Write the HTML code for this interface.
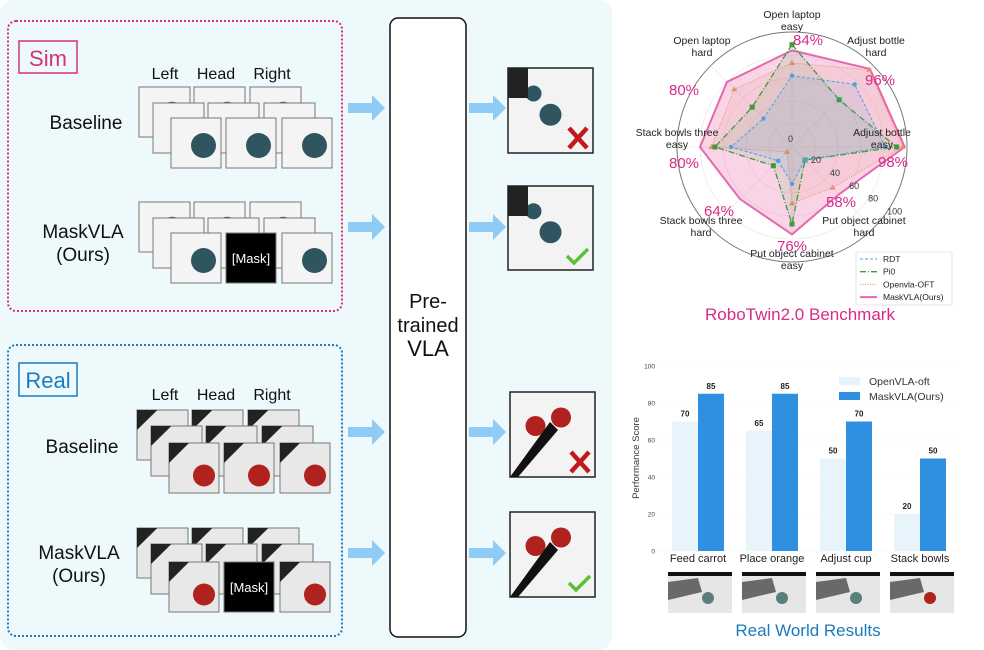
<!DOCTYPE html>
<html><head><meta charset="utf-8"><style>
body{margin:0;background:#fff;}
svg{display:block;font-family:"Liberation Sans",sans-serif;}
</style></head><body>
<svg id="fig" width="984" height="650" viewBox="0 0 984 650" xmlns="http://www.w3.org/2000/svg">
<rect x="0" y="0" width="612" height="650" rx="14" fill="#edf9fa"/>
<rect x="8" y="21" width="334" height="290" rx="8" fill="none" stroke="#d6307f" stroke-width="2" stroke-dasharray="2 2"/>
<rect x="19" y="41" width="58" height="32" fill="none" stroke="#d6307f" stroke-width="1.5"/>
<text x="48" y="66" font-size="22" fill="#d6307f" text-anchor="middle">Sim</text>
<rect x="8" y="345" width="334" height="291" rx="8" fill="none" stroke="#1a7cc4" stroke-width="2" stroke-dasharray="2 2"/>
<rect x="19" y="363" width="58" height="33" fill="none" stroke="#1a7cc4" stroke-width="1.5"/>
<text x="48" y="388" font-size="22" fill="#1a7cc4" text-anchor="middle">Real</text>
<g font-size="16" fill="#111" text-anchor="middle">
<text x="165" y="79">Left</text>
<text x="216" y="79">Head</text>
<text x="272" y="79">Right</text>
<text x="165" y="400">Left</text>
<text x="216" y="400">Head</text>
<text x="272" y="400">Right</text>
</g>
<g font-size="19" fill="#111" text-anchor="middle">
<text x="86" y="129">Baseline</text>
<text x="83" y="238">MaskVLA</text>
<text x="83" y="261">(Ours)</text>
<text x="82" y="453">Baseline</text>
<text x="79" y="559">MaskVLA</text>
<text x="79" y="582">(Ours)</text>
</g>
<g id="stacks"></g>
<rect x="390" y="18" width="76" height="619" rx="8" fill="#fff" stroke="#111" stroke-width="1.5"/>
<g font-size="20" fill="#111" text-anchor="middle">
<text x="428" y="308">Pre-</text>
<text x="428" y="332">trained</text>
<text x="428" y="356" font-size="22">VLA</text>
</g>
<g id="arrows"></g>
<g id="outputs"></g>
<g id="radar"></g>
<g id="bars"></g>
</svg>
<script>
const NS='http://www.w3.org/2000/svg';
function mk(tag,attrs,parent){const e=document.createElementNS(NS,tag);for(const k in attrs)e.setAttribute(k,attrs[k]);parent.appendChild(e);return e;}
const stacks=document.getElementById('stacks');
function thumb(x,y,w,h,kind,masked){
  const g=mk('g',{},stacks);
  
  
  if(masked){mk('rect',{x,y,width:w,height:h,fill:'#000',stroke:'#777','stroke-width':1},g);
    const t=mk('text',{x:x+w/2,y:y+h/2+5,'font-size':13,fill:'#fff','text-anchor':'middle'},g);t.textContent='[Mask]';return;}
  mk('rect',{x,y,width:w,height:h,fill:kind==='sim'?'#f4f4f4':'#e8e8e8',stroke:'#777','stroke-width':1},g);
  if(kind==='sim'){mk('circle',{cx:x+w*0.65,cy:y+h*0.55,r:w*0.25,fill:'#2f5560'},g);}
  else{mk('path',{d:`M${x} ${y+h*0.4}L${x+w*0.4} ${y}L${x} ${y}Z`,fill:'#222'},g);
    mk('circle',{cx:x+w*0.7,cy:y+h*0.65,r:w*0.22,fill:'#b0221e'},g);}
}
function stackRow(backY,frontY,xs,kind,masked){
  const back=[xs[0]-32,xs[1]-32,xs[2]-32];
  for(let i=0;i<3;i++)thumb(back[i],backY,51,50,kind,false);
  for(let i=0;i<3;i++)thumb(back[i]+14,backY+16,51,50,kind,false);
  for(let i=0;i<3;i++)thumb(xs[i],frontY,50,50,kind,masked&&i===1);
}
stackRow(87,118,[171,226,282],'sim',false);
stackRow(202,233,[171,226,282],'sim',true);
stackRow(410,443,[169,224,280],'real',false);
stackRow(528,562,[169,224,280],'real',true);
const arrows=document.getElementById('arrows');
[[348,108],[348,227],[348,432],[348,553],[469,108],[469,227],[469,432],[469,553]].forEach(([x,y])=>{
  const p=mk('path',{d:`M${x} ${y-5}H${x+24}V${y-13}L${x+37} ${y}L${x+24} ${y+13}V${y+5}H${x}Z`,fill:'#8ecbf5'},arrows);
  
  
});
const outputs=document.getElementById('outputs');
[[508,68,85,85,'sim',false],[508,186,85,84,'sim',true],[510,392,85,85,'real',false],[510,512,85,85,'real',true]].forEach(([x,y,w,h,k,ok])=>{
  const g=mk('g',{},outputs);
  
  
  mk('rect',{x,y,width:w,height:h,fill:'#f3f3f3',stroke:'#222','stroke-width':1.5},g);
  if(k==='sim'){mk('circle',{cx:x+w*0.5,cy:y+h*0.55,r:11,fill:'#2f5560'},g);mk('circle',{cx:x+w*0.3,cy:y+h*0.3,r:8,fill:'#2f5560'},g);mk('path',{d:`M${x} ${y}h20v30h-20z`,fill:'#222'},g);}
  else{mk('circle',{cx:x+w*0.6,cy:y+h*0.3,r:10,fill:'#b0221e'},g);mk('circle',{cx:x+w*0.3,cy:y+h*0.4,r:10,fill:'#b0221e'},g);mk('path',{d:`M${x} ${y+h}L${x+40} ${y+30}L${x+48} ${y+38}L${x+8} ${y+h}Z`,fill:'#111'},g);}
  if(ok)mk('path',{d:`M${x+w-26} ${y+h-14}l7 7l14 -14`,stroke:'#5bc236','stroke-width':3.5,fill:'none'},g);
  else{mk('path',{d:`M${x+w-24} ${y+h-25}l18 20M${x+w-6} ${y+h-25}l-18 20`,stroke:'#c0181b','stroke-width':4.5,fill:'none'},g);}
});
</script>
<script>
const radarAxes=["Open laptop\neasy","Adjust bottle\nhard","Adjust bottle\neasy","Put object cabinet\nhard","Put object cabinet\neasy","Stack bowls three\nhard","Stack bowls three\neasy","Open laptop\nhard"];
const rdtValues=[62,77,81,16,32,17,53,35];
const pi0Values=[89,58,91,16,67,23,67,49];
const oftValues=[73,95,96,50,49,6,70,71];
const maskValues=[84,96,98,58,76,64,80,80];
const radarTicks=[0,20,40,60,80,100];
const maskLabels=["84%","96%","98%","58%","76%","64%","80%","80%"];
(function(){
  const g=document.getElementById('radar');
  const cx=792,cy=147,R=115,N=radarAxes.length;
  const ang=i=>-Math.PI/2+i*2*Math.PI/N;
  const rs=v=>v/100*R;
  const pt=(i,v)=>[cx+rs(v)*Math.cos(ang(i)),cy+rs(v)*Math.sin(ang(i))];
  radarTicks.forEach(t=>{if(t>0){const c=mk('circle',{cx,cy,r:rs(t),fill:'none',stroke:t===100?'#777':'#e4e4e4','stroke-width':t===100?1:0.6},g);}});
  for(let i=0;i<N;i++){const [x,y]=pt(i,100);const l=mk('line',{x1:cx,y1:cy,x2:x,y2:y,stroke:'#e4e4e4','stroke-width':0.6},g);}
  const series=[
    {v:rdtValues,c:'#4aa3df',dash:'3 2',fill:'rgba(74,163,223,0.12)',m:'circle',w:1,name:'rdt'},
    {v:pi0Values,c:'#3d9a3d',dash:'6 2 1 2',fill:'rgba(61,154,61,0.10)',m:'square',w:1.3,name:'pi0'},
    {v:oftValues,c:'#e88f6a',dash:'1 1.5',fill:'rgba(232,143,106,0.12)',m:'tri',w:1,name:'openvla-oft'},
    {v:maskValues,c:'#e667ac',dash:'',fill:'rgba(232,102,170,0.28)',m:'none',w:2,name:'maskvla'}];
  series.slice().reverse().forEach(s=>{
    const pts=s.v.map((v,i)=>pt(i,v).join(',')).join(' ');
    const p=mk('polygon',{points:pts,fill:s.fill,stroke:s.c,'stroke-width':s.w,'stroke-dasharray':s.dash},g);
    
    
    s.v.forEach((v,i)=>{const [x,y]=pt(i,v);let m;
      if(s.m==='circle')m=mk('circle',{cx:x,cy:y,r:2.2,fill:s.c},g);
      else if(s.m==='square')m=mk('rect',{x:x-2.5,y:y-2.5,width:5,height:5,fill:s.c},g);
      else if(s.m==='tri')m=mk('path',{d:`M${x} ${y-3}L${x+3} ${y+2}L${x-3} ${y+2}Z`,fill:s.c},g);
      if(m){}});
  });
  radarTicks.forEach(t=>{const a=Math.PI*0.19;const x=cx+rs(t)*Math.cos(a),y=cy+rs(t)*Math.sin(a);
    const tx=mk('text',{x:t===0?cx-4:x,y:t===0?cy-5:y+3,'font-size':9,fill:'#333'},g);tx.textContent=t;
    });
  const lblPos=[[792,18],[876,44],[882,136],[864,224],[792,257],[701,224],[677,136],[702,44]];
  radarAxes.forEach((a,i)=>{const [x,y]=lblPos[i];const lines=a.split('\n');
    lines.forEach((ln,k)=>{const t=mk('text',{x,y:y+k*12,'font-size':10.5,fill:'#222','text-anchor':'middle'},g);t.textContent=ln;
      });});
  const pctPos=[[808,45],[880,85],[893,167],[841,207],[792,251],[719,216],[684,168],[684,95]];
  maskLabels.forEach((s,i)=>{const [x,y]=pctPos[i];const t=mk('text',{x,y,'font-size':15,fill:'#d92a87','text-anchor':'middle'},g);t.textContent=s;
    });
  const lg=mk('g',{},g);
  mk('rect',{x:856,y:252,width:96,height:53,rx:2,fill:'#fff',stroke:'#ddd','stroke-width':0.8},lg);
  const names=['RDT','Pi0','Openvla-OFT','MaskVLA(Ours)'];
  series.forEach((s,i)=>{const y=259+i*12.7;mk('line',{x1:860,y1:y,x2:877,y2:y,stroke:s.c,'stroke-width':s.w,'stroke-dasharray':s.dash},lg);
    const t=mk('text',{x:883,y:y+3,'font-size':8.5,fill:'#222'},lg);t.textContent=names[i];
    });
  const tt=mk('text',{x:800,y:320,'font-size':17,fill:'#d92a87','text-anchor':'middle'},g);tt.textContent='RoboTwin2.0 Benchmark';
  
})();
</script>
<script>
const barCategories=["Feed carrot","Place orange","Adjust cup","Stack bowls"];
const openvlaScores=[70,65,50,20];
const maskvlaScores=[85,85,70,50];
const yTicks=[0,20,40,60,80,100];
(function(){
  const g=document.getElementById('bars');
  const x0=657,x1=960,y0=551,y1=366;
  const ys=v=>y0-(v-0)/100*(y0-y1);
  const groupW=74,bw=26,start=672;
  const xg=i=>start+i*groupW;
  yTicks.forEach(t=>{const l=mk('line',{x1:x0,x2:x1,y1:ys(t),y2:ys(t),stroke:'#f2f2f2','stroke-width':0.6},g);
    const tx=mk('text',{x:655,y:ys(t)+2.5,'font-size':6.5,fill:'#444','text-anchor':'end'},g);tx.textContent=t;
    });
  barCategories.forEach((c,i)=>{
    const a=mk('rect',{x:xg(i),y:ys(openvlaScores[i]),width:bw,height:y0-ys(openvlaScores[i]),fill:'#e8f4fc'},g);
    
    const b=mk('rect',{x:xg(i)+bw,y:ys(maskvlaScores[i]),width:bw,height:y0-ys(maskvlaScores[i]),fill:'#2f8fe0'},g);
    
    const ta=mk('text',{x:xg(i)+bw/2,y:ys(openvlaScores[i])-5,'font-size':8,'font-weight':'bold',fill:'#222','text-anchor':'middle'},g);ta.textContent=openvlaScores[i];
    
    const tb=mk('text',{x:xg(i)+bw*1.5,y:ys(maskvlaScores[i])-5,'font-size':8,'font-weight':'bold',fill:'#222','text-anchor':'middle'},g);tb.textContent=maskvlaScores[i];
    
    const cl=mk('text',{x:xg(i)+bw,y:562,'font-size':11,fill:'#222','text-anchor':'middle'},g);cl.textContent=c;
    
    const tg=mk('g',{},g);
    const tx=xg(i)-4;
    mk('rect',{x:tx,y:572,width:64,height:41,fill:'#e6e6e6'},tg);
    mk('rect',{x:tx,y:572,width:64,height:4,fill:'#111'},tg);
    mk('path',{d:`M${tx} ${582}L${tx+30} ${578}L${tx+34} ${592}L${tx} ${600}Z`,fill:'#333',opacity:0.7},tg);
    mk('circle',{cx:tx+40,cy:598,r:6,fill:i===3?'#b0221e':'#5a7f7a'},tg);
  });
  const yl=mk('text',{x:0,y:0,'font-size':9.5,fill:'#333','text-anchor':'middle',transform:'translate(639,458) rotate(-90)'},g);yl.textContent='Performance Score';
  
  const lg=mk('g',{},g);
  mk('rect',{x:839,y:377,width:21,height:8,fill:'#e8f4fc'},lg);
  mk('rect',{x:839,y:392,width:21,height:8,fill:'#2f8fe0'},lg);
  const l1=mk('text',{x:869,y:385,'font-size':10.5,fill:'#333'},lg);l1.textContent='OpenVLA-oft';
  
  const l2=mk('text',{x:869,y:400,'font-size':10.5,fill:'#333'},lg);l2.textContent='MaskVLA(Ours)';
  
  const tt=mk('text',{x:808,y:636,'font-size':17,fill:'#1a7ac0','text-anchor':'middle'},g);tt.textContent='Real World Results';
  
})();
</script>
</body></html>
